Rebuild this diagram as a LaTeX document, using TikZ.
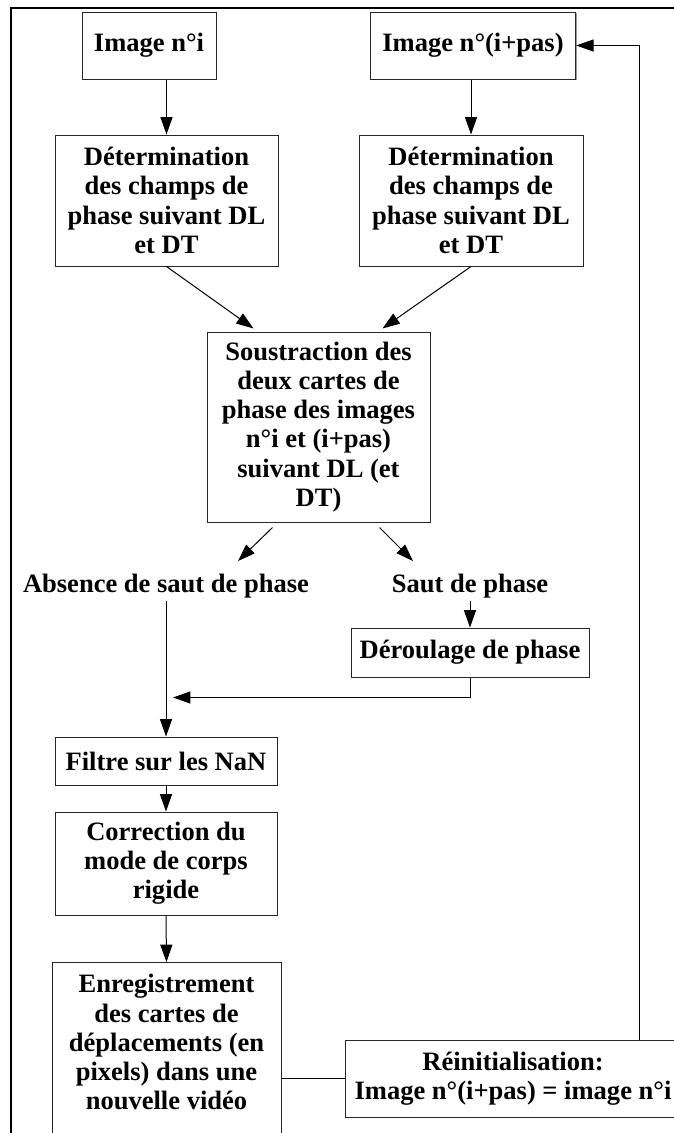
\documentclass[tikz,border=0pt]{standalone}
\usepackage{fontspec}
\setmainfont{Liberation Serif}
\usetikzlibrary{arrows.meta,calc,shadows}
\newcommand\figfont{\fontsize{19.9}{21.9}\selectfont\bfseries}
\begin{document}
\begin{tikzpicture}[x=0.75pt,y=-0.75pt,
  box/.style={draw=black!85, line width=0.75pt, fill=white, align=center, inner sep=0pt, font=\figfont,
    drop shadow={shadow xshift=0.8pt, shadow yshift=-0.8pt, fill=black!40, opacity=1}},
  lbl/.style={inner sep=2pt, font=\figfont},
  arr/.style={draw=black, line width=0.75pt, -{Triangle[length=13pt,width=9pt]}},
  conn/.style={draw=black, line width=0.75pt}]
\useasboundingbox (0,0) rectangle (674,1133);
\clip (0,0) rectangle (674,1133);
% frame
\draw[line width=1.1pt] (11,1140) -- (11,8) -- (690,8);
% boxes
\node[box, minimum width=100.5pt, minimum height=50.25pt] (A) at (149,45.5) {Image n°i};
\node[box, minimum width=154pt, minimum height=50.25pt] (B) at (473,45.5) {Image n°(i+pas)};
\node[box, minimum width=167.25pt, minimum height=98.25pt] (C) at (166.5,200.5)
  {Détermination\\des champs de\\phase suivant DL\\et DT};
\node[box, minimum width=168pt, minimum height=98.25pt] (D) at (471,200.5)
  {Détermination\\des champs de\\phase suivant DL\\et DT};
\node[box, minimum width=167.25pt, minimum height=142.5pt] (E) at (318.5,427)
  {Soustraction des\\deux cartes de\\phase des images\\n°i et (i+pas)\\suivant DL (et\\DT)};
\node[lbl] (abs) at (166,586) {Absence de saut de phase};
\node[lbl] (saut) at (470,586) {Saut de phase};
\node[box, minimum width=178.5pt, minimum height=36.75pt] (F) at (470,652.5) {Déroulage de phase};
\node[box, minimum width=166.5pt, minimum height=36pt] (G) at (166,761) {Filtre sur les NaN};
\node[box, minimum width=166.5pt, minimum height=77.25pt] (H) at (166,863.5)
  {Correction du\\mode de corps\\rigide};
\node[box, minimum width=171.75pt, anchor=north, inner ysep=9pt] (I) at (166.5,962)
  {Enregistrement\\des cartes de\\déplacements (en\\pixels) dans une\\nouvelle vidéo\rule[-60pt]{0pt}{60pt}};
\node[box, minimum width=252pt, minimum height=57.75pt] (J) at (513,1078.5)
  {Réinitialisation:\\Image n°(i+pas) = image n°i};
% connectors
\draw[arr] (A.south -| C.north) -- (C.north);
\draw[arr] (B.south -| D.north) -- (D.north);
\draw[arr] (C.south) -- ($(E.north)+(-65,-3)$);
\draw[arr] (D.south) -- ($(E.north)+(64,-3)$);
\draw[arr] ($(E.south)+(-46,5)$) -- ($(abs.north)+(72,-10)$);
\draw[arr] ($(E.south)+(61,5)$) -- ($(saut.north)+(-57,-10)$);
\draw[arr] (saut.south) -- (F.north);
\draw[arr] (abs.south) -- (G.north);
\draw[arr] (F.south) |- ($(G.north)+(7,-39)$);
\draw[arr] (G.south) -- (H.north);
\draw[arr] (H.south) -- (I.north);
\draw[conn] (J.west) -- (J.west -| I.east);
\draw[arr] ($(J.north east)+(-42,0)$) |- (B.east);
\end{tikzpicture}
\end{document}
